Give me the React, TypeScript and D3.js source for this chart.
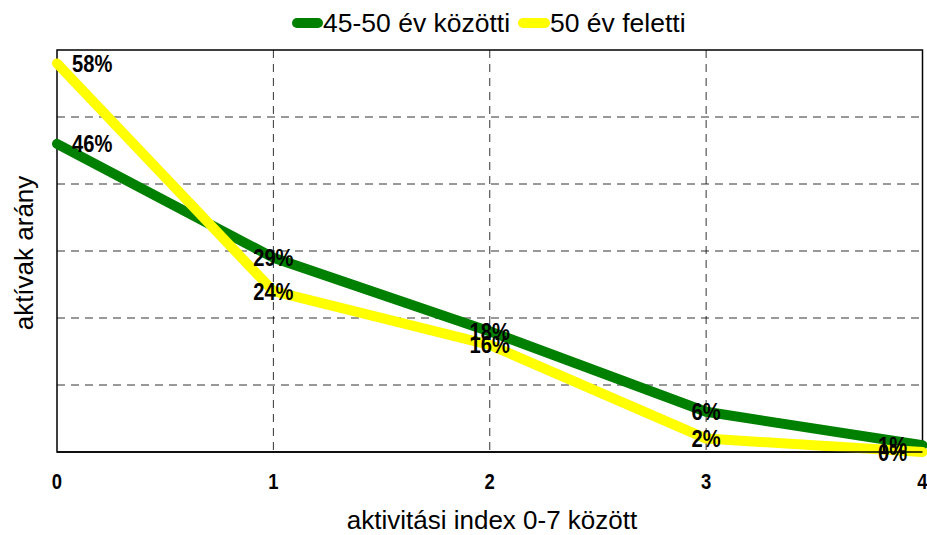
import React from "react";
import * as d3 from "d3";

const categories = [0, 1, 2, 3, 4];
const seriesNames = ["45-50 év közötti", "50 év feletti"];
const green = [46, 29, 18, 6, 1];
const yellow = [58, 24, 16, 2, 0];
const yTicks = [0, 10, 20, 30, 40, 50, 60];

const W = 927, H = 535;
const M = { left: 57, right: 4, top: 50, bottom: 83 };

export default function App() {
  const x = d3.scaleLinear().domain([0, 4]).range([M.left, W - M.right - 0.5]);
  const y = d3.scaleLinear().domain([0, 60]).range([H - M.bottom, M.top]);
  const line = d3.line<number>().x((_, i) => x(categories[i])).y((d) => y(d));
  const series = [
    { name: seriesNames[0], values: green, color: "#008000" },
    { name: seriesNames[1], values: yellow, color: "#FFFF00" },
  ];
  const sans = "'Liberation Sans', Arial, sans-serif";
  const sx = 0.84;
  return (
    <svg width={W} height={H} style={{ position: "absolute", left: 0, top: 0 }}>
      <rect width={W} height={H} fill="#fff" />
      {yTicks.slice(1, -1).map((t) => (
        <line key={"h" + t} x1={x(0)} x2={x(4)} y1={y(t)} y2={y(t)} stroke="#000" strokeDasharray="8,6" strokeWidth={1} opacity={0.8} />
      ))}
      {categories.slice(1, -1).map((c) => (
        <line key={"v" + c} x1={x(c)} x2={x(c)} y1={y(60)} y2={y(0)} stroke="#000" strokeDasharray="8,6" strokeWidth={1} opacity={0.8} />
      ))}
      <rect x={x(0)} y={y(60)} width={x(4) - x(0)} height={y(0) - y(60)} fill="none" stroke="#000" strokeWidth={1.5} />
      {series.map((s) => (
        <path key={s.name} d={line(s.values) || ""} fill="none" stroke={s.color} strokeWidth={10} strokeLinejoin="round" strokeLinecap="round" />
      ))}
      <line x1={x(0)} x2={x(4)} y1={y(0)} y2={y(0)} stroke="#000" strokeWidth={1.5} />
      {series.map((s) =>
        s.values.map((v, i) => {
          const anchor = i === 0 ? "start" : "middle";
          const dx = i === 0 ? 15 : i === 4 ? -30 : 0;
          return (
            <text key={s.name + i} transform={`translate(${x(categories[i]) + dx},${y(v)}) scale(${sx},1)`} dy="0.36em" textAnchor={anchor} fontFamily={sans} fontWeight="bold" fontSize={24} fill="#000">
              {v}%
            </text>
          );
        })
      )}
      {categories.map((c) => (
        <text key={"t" + c} transform={`translate(${x(c)},481) scale(${sx},1)`} dy="0.36em" textAnchor="middle" fontFamily={sans} fontWeight="bold" fontSize={22} fill="#000">
          {c}
        </text>
      ))}
      <text x={492} y={529} textAnchor="middle" fontFamily={sans} fontSize={26} fill="#000">
        aktivitási index 0-7 között
      </text>
      <text transform={`translate(33,253) rotate(-90)`} textAnchor="middle" fontFamily={sans} fontSize={26} fill="#000">
        aktívak arány
      </text>
      <g>
        <line x1={297} x2={318} y1={23} y2={23} stroke="#008000" strokeWidth={10} strokeLinecap="round" />
        <text x={323} y={32} fontFamily={sans} fontSize={26.5} fill="#000">{seriesNames[0]}</text>
        <line x1={523} x2={545} y1={23} y2={23} stroke="#FFFF00" strokeWidth={10} strokeLinecap="round" />
        <text x={550} y={32} fontFamily={sans} fontSize={26.5} fill="#000">{seriesNames[1]}</text>
      </g>
    </svg>
  );
}
